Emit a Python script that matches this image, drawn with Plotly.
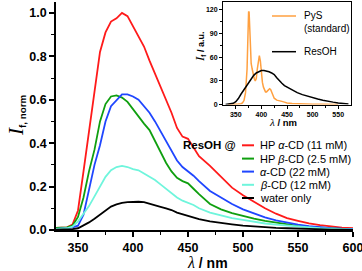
import plotly.graph_objects as go

# ---------------- data ----------------
wl = [330, 335, 340, 345, 350, 355, 360, 365, 370, 375, 380, 385, 390, 395, 400,
      405, 410, 415, 420, 425, 430, 435, 440, 445, 450, 455, 460, 470, 480, 490,
      500, 510, 520, 530, 540, 550, 560, 570, 580, 590, 600]

hp_alpha = [0.010, 0.010, 0.012, 0.025, 0.09, 0.27, 0.46, 0.64, 0.82, 0.91, 0.96, 0.975, 1.0, 0.985, 0.94,
            0.89, 0.845, 0.78, 0.72, 0.665, 0.60, 0.54, 0.47, 0.43, 0.42, 0.38, 0.34, 0.295, 0.245, 0.195,
            0.16, 0.13, 0.10, 0.075, 0.055, 0.042, 0.030, 0.022, 0.015, 0.011, 0.008]
hp_beta = [0.010, 0.010, 0.012, 0.020, 0.06, 0.15, 0.27, 0.37, 0.50, 0.58, 0.615, 0.62, 0.61, 0.59, 0.555,
           0.52, 0.49, 0.46, 0.41, 0.36, 0.31, 0.27, 0.24, 0.225, 0.215, 0.19, 0.165, 0.12, 0.095, 0.078,
           0.064, 0.052, 0.042, 0.034, 0.027, 0.019, 0.014, 0.010, 0.007, 0.005, 0.004]
alpha_cd = [0.005, 0.006, 0.008, 0.012, 0.02, 0.07, 0.19, 0.30, 0.39, 0.50, 0.57, 0.60, 0.625, 0.625, 0.615,
            0.60, 0.57, 0.54, 0.50, 0.455, 0.41, 0.36, 0.32, 0.29, 0.27, 0.25, 0.225, 0.18, 0.15, 0.12,
            0.095, 0.075, 0.058, 0.044, 0.033, 0.025, 0.018, 0.012, 0.009, 0.006, 0.005]
beta_cd = [0.005, 0.006, 0.008, 0.015, 0.04, 0.075, 0.11, 0.155, 0.20, 0.245, 0.275, 0.29, 0.295, 0.29, 0.28,
           0.275, 0.26, 0.245, 0.23, 0.21, 0.19, 0.17, 0.15, 0.135, 0.125, 0.115, 0.10, 0.08, 0.067, 0.055,
           0.047, 0.038, 0.030, 0.025, 0.020, 0.015, 0.011, 0.008, 0.006, 0.004, 0.003]
water = [0.002, 0.002, 0.003, 0.004, 0.008, 0.02, 0.035, 0.052, 0.07, 0.09, 0.108, 0.118, 0.125, 0.128, 0.13,
         0.13, 0.128, 0.12, 0.113, 0.107, 0.10, 0.092, 0.08, 0.072, 0.065, 0.058, 0.05, 0.04, 0.032, 0.026,
         0.02, 0.016, 0.012, 0.010, 0.008, 0.006, 0.004, 0.003, 0.002, 0.002, 0.001]

series_names = ["HP <i>α</i>-CD (11 mM)", "HP <i>β</i>-CD (2.5 mM)", "<i>α</i>-CD (22 mM)",
                "<i>β</i>-CD (12 mM)", "water only"]
series_values = [hp_alpha, hp_beta, alpha_cd, beta_cd, water]
series_colors = ["#ff1a1a", "#0f9f0f", "#1f46ff", "#6ff5dc", "#000000"]

main_xticks = [350, 400, 450, 500, 550, 600]
main_yticks = [0.0, 0.2, 0.4, 0.6, 0.8, 1.0]
main_yticklabels = ["0.0", "0.2", "0.4", "0.6", "0.8", "1.0"]

# inset
pys_wl = [335, 340, 350, 355, 360, 363, 366, 369, 372, 374, 375, 376, 378, 380, 382, 384, 386, 388,
          390, 392, 394, 396, 398, 400, 402, 404, 406, 408, 410, 412, 414, 416, 418, 420, 422, 425,
          430, 435, 440, 445, 450, 460, 470, 480, 500, 520, 550]
pys_int = [0, 0, 0.3, 0.5, 1, 2, 5, 15, 45, 95, 118, 117, 85, 52, 45, 38, 33, 30,
           33, 45, 58, 62, 55, 40, 28, 22, 18, 16, 16, 17, 19, 20, 19, 16, 12, 8,
           5.5, 5, 4, 3, 2, 1.2, 0.8, 0.5, 0.3, 0.2, 0.1]
resoh_wl = [330, 335, 340, 345, 350, 355, 360, 365, 370, 375, 380, 385, 390, 395, 400, 405, 410,
            415, 420, 425, 430, 435, 440, 445, 450, 455, 460, 470, 480, 490, 500, 510, 520, 530,
            540, 550, 560, 570]
resoh_int = [0, 0.2, 0.5, 1.5, 3.5, 7.5, 13, 18, 23, 28, 33, 37, 40, 42, 43, 43, 42.5,
             41.5, 40, 38, 34, 30, 27, 24, 22, 20, 18, 15, 12.5, 10.5, 9, 7, 5.5, 4,
             3, 2, 1, 0.5]
inset_names = ["PyS<br>(standard)", "ResOH"]
inset_colors = ["#ffa040", "#000000"]
inset_xticks = [350, 400, 450, 500, 550]
inset_yticks = [0, 30, 60, 90, 120]

# ---------------- layout helpers ----------------
W, H = 362, 271
ML, MR, MT, MB = 56, 9, 2, 41
PW, PH = W - ML - MR, H - MT - MB


def px(x):
    return (x - ML) / PW


def py(y):
    return 1 - (y - MT) / PH


fig = go.Figure()

for name, vals, col in zip(series_names, series_values, series_colors):
    fig.add_trace(go.Scatter(x=wl, y=vals, mode="lines", name=name,
                             line=dict(color=col, width=1.8), showlegend=False,
                             xaxis="x", yaxis="y"))

fig.add_trace(go.Scatter(x=pys_wl, y=pys_int, mode="lines", name="PyS",
                         line=dict(color=inset_colors[0], width=1.5), showlegend=False,
                         xaxis="x2", yaxis="y2"))
fig.add_trace(go.Scatter(x=resoh_wl, y=resoh_int, mode="lines", name="ResOH",
                         line=dict(color=inset_colors[1], width=1.5), showlegend=False,
                         xaxis="x2", yaxis="y2"))

tickf = dict(family="Liberation Sans, Arial", size=12.5, color="black", weight="bold")
small_tickf = dict(family="Liberation Sans, Arial", size=7, color="black", weight="bold")

fig.update_layout(
    width=W, height=H,
    margin=dict(l=ML, r=MR, t=MT, b=MB, autoexpand=False),
    paper_bgcolor="white", plot_bgcolor="white",
    showlegend=False,
    xaxis=dict(domain=[0, 1], range=[330, 600], showgrid=False, zeroline=False, automargin=False,
               showline=True, linecolor="black", linewidth=1.5, ticklabeloverflow="allow",
               ticks="outside", ticklen=5, tickwidth=1.5, tickcolor="black",
               tickvals=main_xticks, tickfont=tickf,
               minor=dict(ticks="outside", ticklen=3, tickwidth=1.2, tickcolor="black",
                          tickvals=[375, 425, 475, 525, 575])),
    yaxis=dict(domain=[0, 1], range=[0, 1.05], showgrid=False, zeroline=False, automargin=False,
               showline=True, linecolor="black", linewidth=1.5, ticklabeloverflow="allow",
               ticks="outside", ticklen=5, tickwidth=1.5, tickcolor="black",
               tickvals=main_yticks, ticktext=main_yticklabels, tickfont=tickf,
               minor=dict(ticks="outside", ticklen=3, tickwidth=1.2, tickcolor="black",
                          tickvals=[0.1, 0.3, 0.5, 0.7, 0.9])),
    xaxis2=dict(domain=[px(223), px(351)], anchor="y2", range=[325, 575], automargin=False,
                showgrid=False, zeroline=False, showline=True, linecolor="black",
                linewidth=1, mirror=True, ticks="outside", ticklen=3, tickwidth=1,
                tickcolor="black", tickvals=inset_xticks, tickfont=small_tickf,
                minor=dict(ticks="outside", ticklen=2, tickwidth=0.8, tickcolor="black",
                           tickvals=[375, 425, 475, 525])),
    yaxis2=dict(domain=[py(104.5), py(2)], anchor="x2", range=[0, 130], automargin=False,
                showgrid=False, zeroline=False, showline=True, linecolor="black",
                linewidth=1, mirror=True, ticks="outside", ticklen=3, tickwidth=1,
                tickcolor="black", tickvals=inset_yticks, tickfont=small_tickf,
                minor=dict(ticks="outside", ticklen=2, tickwidth=0.8, tickcolor="black",
                           tickvals=[15, 45, 75, 105])),
)

ann = []
shapes = []
# axis titles
ann.append(dict(xref="paper", yref="paper", x=px(207), y=py(262), xanchor="center", yanchor="middle",
                showarrow=False,
                text='<span style="font-family:Liberation Serif;font-size:16px"><i>λ</i></span>'
                     '<b> / nm</b>',
                font=dict(family="Liberation Sans, Arial", size=14, color="black")))
ann.append(dict(xref="paper", yref="paper", x=px(16), y=py(116), xanchor="center", yanchor="middle",
                showarrow=False, textangle=-90,
                text='<span style="font-family:Liberation Serif;font-size:21px"><i>I</i></span>'
                     '<sub><b>f, norm</b></sub>',
                font=dict(family="Liberation Sans, Arial", size=14, color="black")))
# inset titles
ann.append(dict(xref="paper", yref="paper", x=px(283), y=py(122), xanchor="center", yanchor="middle",
                showarrow=False,
                text='<span style="font-family:Liberation Serif;font-size:11px"><i>λ</i></span>'
                     '<b> / nm</b>',
                font=dict(family="Liberation Sans, Arial", size=9.5, color="black")))
ann.append(dict(xref="paper", yref="paper", x=px(199), y=py(47), xanchor="center", yanchor="middle",
                showarrow=False, textangle=-90,
                text='<span style="font-family:Liberation Serif;font-size:13px"><i>I</i></span>'
                     '<sub><b>f</b></sub><b> / a.u.</b>',
                font=dict(family="Liberation Sans, Arial", size=9, color="black")))

# main legend
ann.append(dict(xref="paper", yref="paper", x=px(238), y=py(145.3), xanchor="right", yanchor="middle",
                showarrow=False, text="<b>ResOH @</b>",
                font=dict(family="Liberation Sans, Arial", size=11.5, color="black")))
leg_y = [145.3, 158.6, 171.6, 184.8, 198]
for name, col, yy in zip(series_names, series_colors, leg_y):
    shapes.append(dict(type="line", xref="paper", yref="paper", x0=px(242), x1=px(254),
                       y0=py(yy), y1=py(yy), line=dict(color=col, width=2)))
    ann.append(dict(xref="paper", yref="paper", x=px(258), y=py(yy), xanchor="left", yanchor="middle",
                    showarrow=False, text=name,
                    font=dict(family="Liberation Sans, Arial", size=11, color="black")))

# inset legend
inset_leg_y = [16, 51.7]
inset_text_y = [22, 51.7]
for name, col, yy, ty in zip(inset_names, inset_colors, inset_leg_y, inset_text_y):
    shapes.append(dict(type="line", xref="paper", yref="paper", x0=px(272), x1=px(296),
                       y0=py(yy), y1=py(yy), line=dict(color=col, width=1.5)))
    ann.append(dict(xref="paper", yref="paper", x=px(302), y=py(ty), xanchor="left", yanchor="middle",
                    showarrow=False, text=name, align="left",
                    font=dict(family="Liberation Sans, Arial", size=10, color="black")))

fig.update_layout(annotations=ann, shapes=shapes)

fig.write_html("out.html", config={"displayModeBar": False},
               post_script="document.body.style.margin='0px';")
